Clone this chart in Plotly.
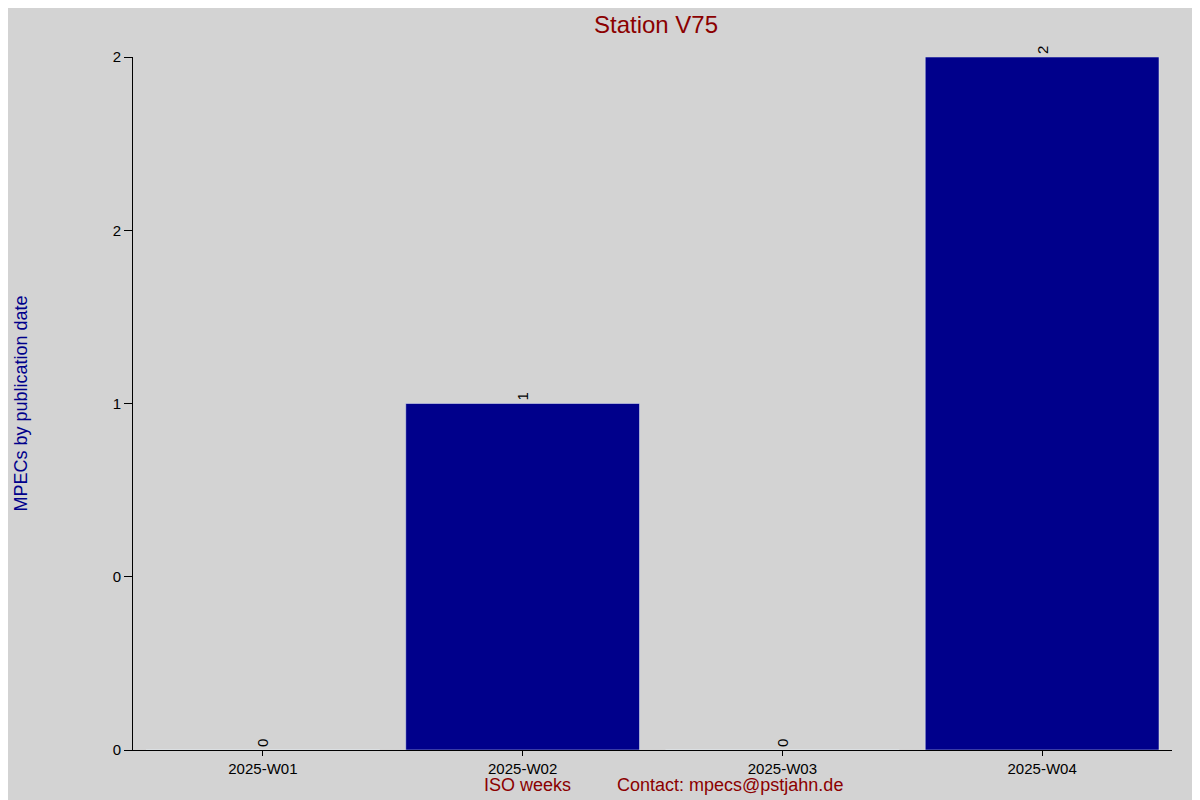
import plotly.graph_objects as go

weeks = ["2025-W01", "2025-W02", "2025-W03", "2025-W04"]
counts = [0, 1, 0, 2]
ytick_vals = [0, 0.5, 1, 1.5, 2]
ytick_text = ["0", "0", "1", "2", "2"]

fig = go.Figure(go.Bar(
    x=weeks, y=counts, width=0.9, marker_color="#00008b",
    text=[str(c) for c in counts], textposition="outside", textangle=-90,
    textfont=dict(color="black", size=15), cliponaxis=False,
))
fig.update_layout(
    width=1200, height=800, paper_bgcolor="#d3d3d3", plot_bgcolor="#d3d3d3",
    font=dict(family="Liberation Sans, Arial, sans-serif", size=15, color="black"),
    margin=dict(l=119, r=36, t=49, b=58),
    title=dict(text="Station V75", x=0.54, xanchor="center", y=0.99, yanchor="top",
               font=dict(size=24, color="#8b0000")),
    showlegend=False, bargap=0.1,
    xaxis=dict(showgrid=False, showline=True, linecolor="black", ticks="outside",
               ticklen=5, tickcolor="black", range=[-0.5, 3.5]),
    yaxis=dict(range=[0, 2], tickvals=ytick_vals, ticktext=ytick_text, showgrid=False,
               showline=True, linecolor="black", ticks="outside", ticklen=8,
               tickcolor="black", zeroline=False,
               title=dict(text="MPECs by publication date", font=dict(color="#00008b", size=18),
                          standoff=80)),
    annotations=[
        dict(text="ISO weeks", x=0.38, y=-0.068, xref="paper", yref="paper",
             showarrow=False, font=dict(size=18, color="#8b0000")),
        dict(text="Contact: mpecs@pstjahn.de", x=0.575, y=-0.068, xref="paper", yref="paper",
             showarrow=False, font=dict(size=18, color="#8b0000")),
    ],
)
fig.write_html("out.html")
